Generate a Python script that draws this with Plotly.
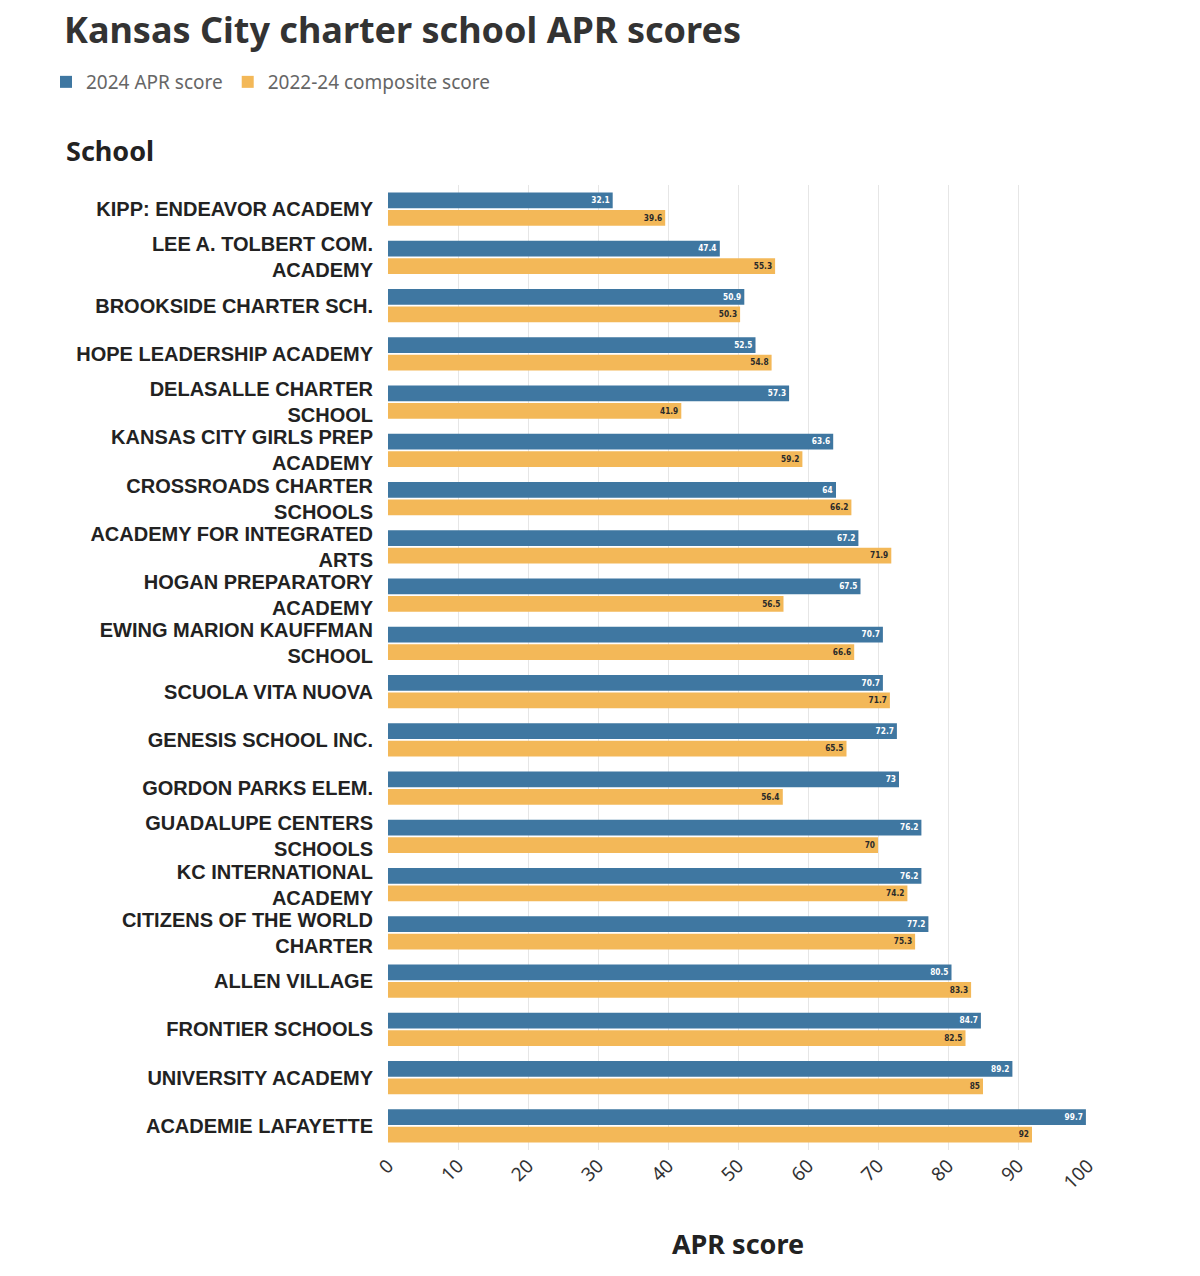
import plotly.graph_objects as go

schools = [
    "KIPP: ENDEAVOR ACADEMY",
    "LEE A. TOLBERT COM.<br>ACADEMY",
    "BROOKSIDE CHARTER SCH.",
    "HOPE LEADERSHIP ACADEMY",
    "DELASALLE CHARTER<br>SCHOOL",
    "KANSAS CITY GIRLS PREP<br>ACADEMY",
    "CROSSROADS CHARTER<br>SCHOOLS",
    "ACADEMY FOR INTEGRATED<br>ARTS",
    "HOGAN PREPARATORY<br>ACADEMY",
    "EWING MARION KAUFFMAN<br>SCHOOL",
    "SCUOLA VITA NUOVA",
    "GENESIS SCHOOL INC.",
    "GORDON PARKS ELEM.",
    "GUADALUPE CENTERS<br>SCHOOLS",
    "KC INTERNATIONAL<br>ACADEMY",
    "CITIZENS OF THE WORLD<br>CHARTER",
    "ALLEN VILLAGE",
    "FRONTIER SCHOOLS",
    "UNIVERSITY ACADEMY",
    "ACADEMIE LAFAYETTE",
]
apr_2024 = [32.1, 47.4, 50.9, 52.5, 57.3, 63.6, 64, 67.2, 67.5, 70.7,
            70.7, 72.7, 73, 76.2, 76.2, 77.2, 80.5, 84.7, 89.2, 99.7]
composite_2022_24 = [39.6, 55.3, 50.3, 54.8, 41.9, 59.2, 66.2, 71.9, 56.5, 66.6,
                     71.7, 65.5, 56.4, 70, 74.2, 75.3, 83.3, 82.5, 85, 92]

BLUE = "#3f77a1"
ORANGE = "#f3b858"
W, H = 1200, 1276
# the page body adds an 8px offset, so positions below are in figure pixels
L, R, T, B = 380, 120, 177, 134
BAR_FONT = "DejaVu Sans Condensed, Roboto, sans-serif"

fig = go.Figure()
fig.add_trace(go.Bar(
    y=schools, x=apr_2024, orientation="h", name="2024 APR score",
    marker=dict(color=BLUE, line=dict(width=0)),
    text=[f"{v:g}" for v in apr_2024], textposition="inside",
    insidetextanchor="end", textangle=0,
    textfont=dict(color="white", size=12, family=BAR_FONT, weight="bold"),
))
fig.add_trace(go.Bar(
    y=schools, x=composite_2022_24, orientation="h", name="2022-24 composite score",
    marker=dict(color=ORANGE, line=dict(width=0)),
    text=[f"{v:g}" for v in composite_2022_24], textposition="inside",
    insidetextanchor="end", textangle=0,
    textfont=dict(color="#2a2a2a", size=12, family=BAR_FONT, weight="bold"),
))

fig.update_layout(
    width=W, height=H,
    margin=dict(l=L, r=R, t=T, b=B),
    paper_bgcolor="white", plot_bgcolor="white",
    barmode="group", bargap=0.28, bargroupgap=0.1,
    font=dict(family="Noto Sans", color="#333333"),
    uniformtext=dict(minsize=8, mode="show"),
    title=dict(
        text="<b>Kansas City charter school APR scores</b>",
        xref="container", x=56 / W, xanchor="left",
        yref="container", y=1 - 22 / H, yanchor="middle",
        font=dict(size=36, color="#333333", family="Noto Sans"),
    ),
    legend=dict(
        orientation="h", xref="container", yref="container",
        x=38 / W, xanchor="left", y=1 - 74 / H, yanchor="middle",
        font=dict(size=19, color="#666666", family="Noto Sans"),
        itemwidth=30, traceorder="normal",
    ),
    xaxis=dict(
        range=[0, 100], dtick=10, tickangle=-45,
        showgrid=True, gridcolor="#e6e6e6", gridwidth=1,
        zeroline=False, showline=False,
        ticks="", tickfont=dict(size=19, color="#333333", family="Noto Sans"),
        title=dict(text="<b>APR score</b>", standoff=41,
                   font=dict(size=27, color="#222222", family="Noto Sans")),
        fixedrange=True,
    ),
    yaxis=dict(
        autorange="reversed", showgrid=False, ticks="",
        ticklabelstandoff=14,
        tickfont=dict(size=20, color="#222222", family="Liberation Sans", weight="bold"),
        fixedrange=True,
    ),
    annotations=[dict(
        text="<b>School</b>", xref="paper", yref="paper",
        x=(56 - L) / (W - L - R), xanchor="left",
        y=(H - B - 143) / (H - T - B), yanchor="middle",
        showarrow=False, font=dict(size=27, color="#222222", family="Noto Sans"),
    )],
)

fig.write_html("out.html")
